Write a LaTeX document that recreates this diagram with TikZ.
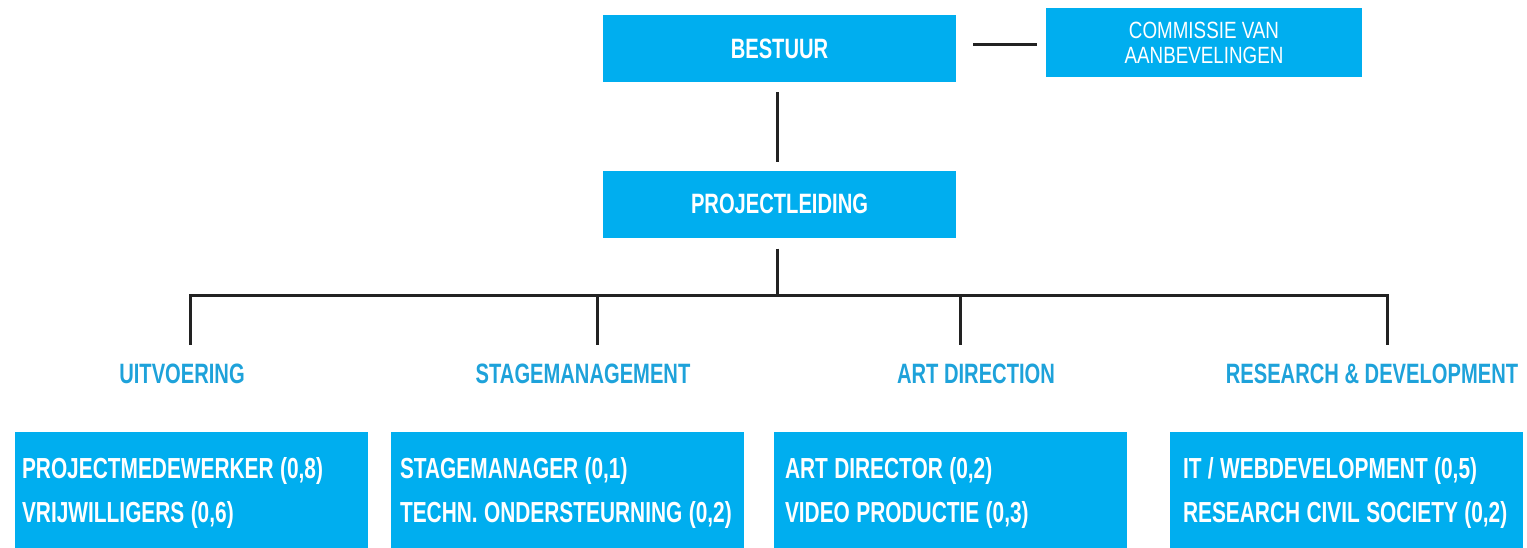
\documentclass[tikz,border=0pt]{standalone}
\usepackage{fontspec}
\newfontfamily\cond[FakeStretch=0.72]{Liberation Sans}
\newfontfamily\condreg[FakeStretch=0.80]{Liberation Sans}
\newcommand\tsp{\spaceskip=0.22em\xspaceskip=0.26em\relax}
\definecolor{boxblue}{HTML}{00AEEF}
\definecolor{labblue}{HTML}{1EA2DA}
\definecolor{linegray}{HTML}{222222}
\begin{document}
\begin{tikzpicture}[x=1pt,y=-1pt,
  topbox/.style={fill=boxblue,draw=none,minimum width=353pt,minimum height=67pt,inner sep=0pt,
     text=white,font=\cond\bfseries\fontsize{28}{32}\selectfont},
  combox/.style={fill=boxblue,draw=none,minimum width=316pt,minimum height=69pt,inner sep=0pt,
     text=white,align=center,font=\condreg\fontsize{23.5}{25}\selectfont},
  unitbox/.style={fill=boxblue,draw=none,minimum width=353pt,minimum height=121pt,inner xsep=7pt,inner ysep=0pt,
     text=white,align=left,text width=339pt,font=\cond\bfseries\fontsize{29}{44}\selectfont},
  dept/.style={text=labblue,inner sep=0pt,font=\cond\bfseries\fontsize{28}{32}\selectfont},
  conn/.style={draw=linegray,line width=3pt}]
\useasboundingbox (0,0) rectangle (1527,547);
% top boxes
\node[topbox] (bestuur) at (779.5,48.5) {BESTUUR};
\node[combox] (comm) at (1204,42.5) {COMMISSIE VAN\\AANBEVELINGEN};
\node[topbox] (pl) at (779.5,204) {PROJECTLEIDING};
% departments
\node[dept] (uit) at (182,374) {UITVOERING};
\node[dept] (stage) at (583,374) {STAGEMANAGEMENT};
\node[dept] (art) at (976,374) {ART DIRECTION};
\node[dept] (rd) at (1372,374) {RESEARCH \& DEVELOPMENT};
% unit boxes
\node[unitbox] (u1) at (191.5,492.5) {\tsp PROJECTMEDEWERKER (0,8)\\VRIJWILLIGERS (0,6)};
\node[unitbox,inner xsep=9pt,text width=335pt] (u2) at (567.5,492.5) {\tsp STAGEMANAGER (0,1)\\TECHN. ONDERSTEURNING (0,2)};
\node[unitbox,inner xsep=11pt,text width=331pt] (u3) at (950.5,492.5) {\tsp ART DIRECTOR (0,2)\\VIDEO PRODUCTIE (0,3)};
\node[unitbox,inner xsep=13pt,text width=327pt] (u4) at (1346.5,492.5) {\tsp IT / WEBDEVELOPMENT (0,5)\\RESEARCH CIVIL SOCIETY (0,2)};
% coordinates
\coordinate (c1) at (973,44);
\coordinate (bus) at (777,295);
\coordinate (d1) at (190,345);
\coordinate (d2) at (597,345);
\coordinate (d3) at (960,345);
\coordinate (d4) at (1387,345);
% connectors
\draw[conn,shorten >=9pt] (c1) -- (c1 -| comm.west);
\draw[conn,shorten <=10pt,shorten >=8pt] (bestuur.south -| bus) -- (pl.north -| bus);
\draw[conn,shorten <=11pt] (pl.south -| bus) -- (bus);
\draw[conn] (d1) |- (bus) -| (d4);
\draw[conn] (bus -| d2) -- (d2);
\draw[conn] (bus -| d3) -- (d3);
\end{tikzpicture}
\end{document}
